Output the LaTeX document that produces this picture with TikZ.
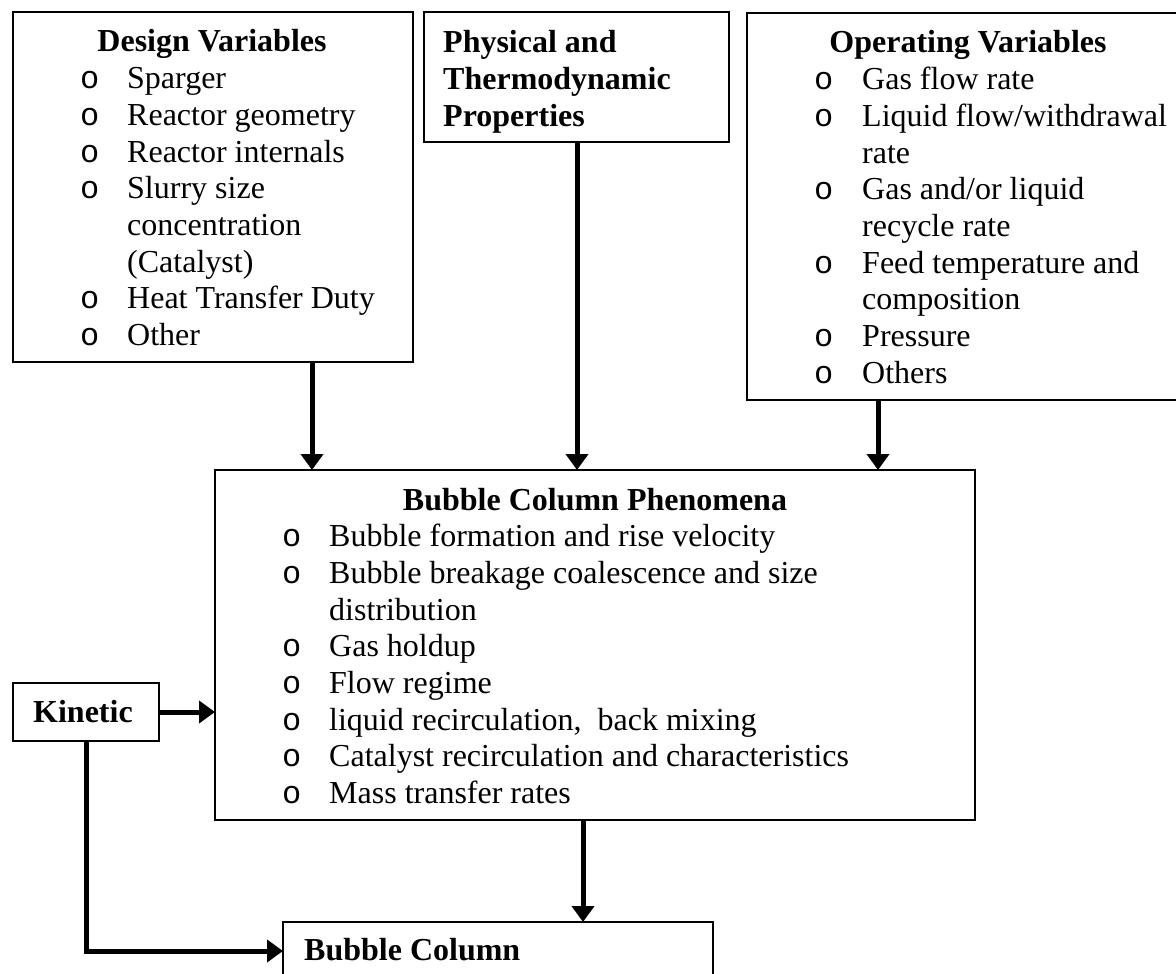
\documentclass[tikz,border=0pt]{standalone}
\usepackage{fontspec}
\setmainfont{Liberation Serif}
\newfontfamily\bulfont{Liberation Mono}
\usetikzlibrary{arrows.meta}
\begin{document}
\begin{tikzpicture}[x=1pt,y=-1pt,
  box/.style={draw,line width=1.8pt,inner sep=0pt,outer sep=0pt,anchor=north west},
  txt/.style={anchor=base west,inner sep=0pt,font=\fontsize{32}{36.7}\selectfont},
  btxt/.style={anchor=base west,inner sep=0pt,font=\fontsize{32}{36.7}\selectfont\bfseries},
  ttl/.style={anchor=base,inner sep=0pt,font=\fontsize{32}{36.7}\selectfont\bfseries},
  bul/.style={anchor=base west,inner sep=0pt,font=\fontsize{32}{36.7}\selectfont\bulfont},
  arr/.style={line width=5pt,-{Triangle[length=16pt,width=22pt]}},
]
\useasboundingbox (0,0) rectangle (1176,974);
\clip (0,0) rectangle (1176,974);

% boxes
\node[box,minimum width=400pt,minimum height=350pt] (des) at (13,12) {};
\node[box,minimum width=305pt,minimum height=130pt] (phy) at (424,12) {};
\node[box,minimum width=443pt,minimum height=387pt] (ope) at (747,13) {};
\node[box,minimum width=760pt,minimum height=350pt] (phen) at (215,470) {};
\node[box,minimum width=146pt,minimum height=58pt] (kin) at (13,683) {};
\node[box,minimum width=430pt,minimum height=58pt] (bc) at (283,922) {};

% Design Variables
\node[ttl] (dt) at (212,52) {Design Variables};
\node[bul] (db1) at (80,88.7) {o};  \node[txt] (d1) at (127,88.7) {Sparger};
\node[bul] (db2) at (80,125.4) {o}; \node[txt] (d2) at (127,125.4) {Reactor geometry};
\node[bul] (db3) at (80,162.1) {o}; \node[txt] (d3) at (127,162.1) {Reactor internals};
\node[bul] (db4) at (80,198.8) {o}; \node[txt] (d4) at (127,198.8) {Slurry size};
\node[txt] (d5) at (127,235.5) {concentration};
\node[txt] (d6) at (127,272.2) {(Catalyst)};
\node[bul] (db7) at (80,308.9) {o}; \node[txt] (d7) at (127,308.9) {Heat Transfer Duty};
\node[bul] (db8) at (80,345.6) {o}; \node[txt] (d8) at (127,345.6) {Other};

% Physical
\node[btxt] (p1) at (443,53) {Physical and};
\node[btxt] (p2) at (443,89.5) {Thermodynamic};
\node[btxt] (p3) at (443,126) {Properties};

% Operating Variables
\node[ttl] (ot) at (968,53) {Operating Variables};
\node[bul] (ob1) at (814,89.7) {o};  \node[txt] (o1) at (862,89.7) {Gas flow rate};
\node[bul] (ob2) at (814,126.4) {o}; \node[txt] (o2) at (862,126.4) {Liquid flow/withdrawal};
\node[txt] (o3) at (862,163.1) {rate};
\node[bul] (ob4) at (814,199.8) {o}; \node[txt] (o4) at (862,199.8) {Gas and/or liquid};
\node[txt] (o5) at (862,236.5) {recycle rate};
\node[bul] (ob6) at (814,273.2) {o}; \node[txt] (o6) at (862,273.2) {Feed temperature and};
\node[txt] (o7) at (862,309.9) {composition};
\node[bul] (ob8) at (814,346.6) {o}; \node[txt] (o8) at (862,346.6) {Pressure};
\node[bul] (ob9) at (814,383.3) {o}; \node[txt] (o9) at (862,383.3) {Others};

% Phenomena
\node[ttl] (ht) at (595,510) {Bubble Column Phenomena};
\node[bul] (hb1) at (282,546.7) {o}; \node[txt] (h1) at (329,546.7) {Bubble formation and rise velocity};
\node[bul] (hb2) at (282,583.4) {o}; \node[txt] (h2) at (329,583.4) {Bubble breakage coalescence and size};
\node[txt] (h3) at (329,620.1) {distribution};
\node[bul] (hb4) at (282,656.8) {o}; \node[txt] (h4) at (329,656.8) {Gas holdup};
\node[bul] (hb5) at (282,693.5) {o}; \node[txt] (h5) at (329,693.5) {Flow regime};
\node[bul] (hb6) at (282,730.2) {o}; \node[txt] (h6) at (329,730.2) {liquid recirculation,~ back mixing};
\node[bul] (hb7) at (282,766.9) {o}; \node[txt] (h7) at (329,766.9) {Catalyst recirculation and characteristics};
\node[bul] (hb8) at (282,803.6) {o}; \node[txt] (h8) at (329,803.6) {Mass transfer rates};

% Kinetic and Bubble Column
\node[btxt] (kt) at (33,722) {Kinetic};
\node[btxt] (bt) at (304,960) {Bubble Column};

% connectors
\coordinate (xa) at (312,0);
\coordinate (xb) at (577,0);
\coordinate (xc) at (878,0);
\coordinate (xd) at (583,0);
\draw[arr] (xa |- des.south) -- (xa |- phen.north);
\draw[arr] (xb |- phy.south) -- (xb |- phen.north);
\draw[arr] (xc |- ope.south) -- (xc |- phen.north);
\draw[arr] (xd |- phen.south) -- (xd |- bc.north);
\draw[arr] (kin.east) -- (kin.east -| phen.west);
\draw[arr] (kin.south) |- (bc.west);
\end{tikzpicture}
\end{document}
